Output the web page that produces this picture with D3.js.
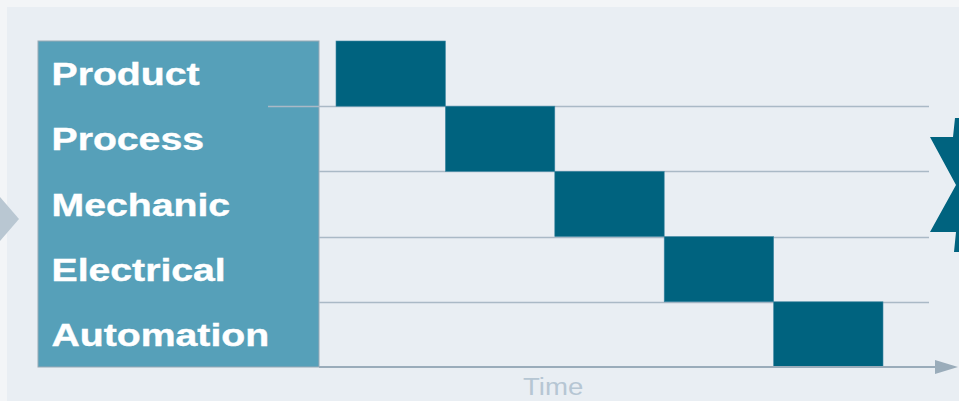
<!DOCTYPE html>
<html>
<head>
<meta charset="utf-8">
<script src="https://cdn.jsdelivr.net/npm/d3@7"></script>
<style>
  body { margin: 0; background: #f3f5f7; }
  svg { display: block; }
</style>
</head>
<body>
<svg></svg>
<script>
// phases of the sequential workflow, in time units
const phases = ["Product", "Process", "Mechanic", "Electrical", "Automation"];
const phaseStart = [0, 1, 2, 3, 4];
const phaseEnd = [1, 2, 3, 4, 5];
const axisLabel = "Time";

const width = 959, height = 401;

const svg = d3.select("svg")
  .attr("width", width)
  .attr("height", height);

const colors = {
  page: "#f3f5f7",
  panel: "#e9eef3",
  box: "#56a0b9",
  boxEdge: "#98a9b6",
  bar: "#00637f",
  grid: "#aab9c6",
  axis: "#9aacba",
  axisText: "#b6c6d3",
  leftArrow: "#b9c7d2"
};

// plot frame
const boxLeft = 38, plotLeft = 319, plotRight = 929, plotTop = 41, plotBottom = 367;

const x = d3.scaleLinear().domain([0, 5]).range([336, 883]);
const y = d3.scaleBand().domain(phases).range([plotTop, plotBottom]).padding(0);

svg.append("rect")
  .attr("width", width).attr("height", height)
  .attr("fill", colors.page);

svg.append("rect")
  .attr("x", 7).attr("y", 7)
  .attr("width", width - 7).attr("height", height - 7)
  .attr("fill", colors.panel);

// incoming arrow on the left
svg.append("path")
  .attr("d", "M0,197 L19,219 L0,241 Z")
  .attr("fill", colors.leftArrow);

// outgoing chevron on the right edge
svg.append("path")
  .attr("d", "M930,137 L953,137 L955,118 L959,118 L959,252 L954,252 L956,232 L930,232 L956,185 Z")
  .attr("fill", colors.bar);

// label box
svg.append("rect")
  .attr("x", boxLeft).attr("y", plotTop)
  .attr("width", plotLeft - boxLeft).attr("height", plotBottom - plotTop)
  .attr("fill", colors.box)
  .attr("stroke", colors.boxEdge)
  .attr("stroke-width", 1);

// row separators
const seps = phases.slice(1).map(p => y(p));
svg.selectAll(".grid")
  .data(seps)
  .enter()
  .append("line")
  .attr("class", "grid")
  .attr("x1", (d, i) => i === 0 ? 268 : plotLeft)
  .attr("x2", plotRight)
  .attr("y1", d => Math.round(d) + 0.5)
  .attr("y2", d => Math.round(d) + 0.5)
  .attr("stroke", colors.grid)
  .attr("stroke-width", 1.5);

// bars
svg.selectAll(".bar")
  .data(phases)
  .enter()
  .append("rect")
  .attr("class", "bar")
  .attr("x", (d, i) => x(phaseStart[i]))
  .attr("y", d => y(d))
  .attr("width", (d, i) => x(phaseEnd[i]) - x(phaseStart[i]))
  .attr("height", y.bandwidth())
  .attr("fill", colors.bar)
  .attr("stroke", "#3f88a3")
  .attr("stroke-width", 0.6);

// row labels
svg.selectAll(".label")
  .data(phases)
  .enter()
  .append("text")
  .attr("class", "label")
  .attr("transform", d => `translate(51.5, ${y(d) + y.bandwidth() / 2 + 11.5}) scale(1.225, 1)`)
  .attr("font-family", "'Liberation Sans', Arial, sans-serif")
  .attr("font-weight", "bold")
  .attr("font-size", 32)
  .attr("fill", "#ffffff")
  .attr("stroke", "#ffffff")
  .attr("stroke-width", 0.4)
  .text(d => d);

// time axis with arrow
svg.append("line")
  .attr("x1", plotLeft).attr("x2", 937)
  .attr("y1", plotBottom).attr("y2", plotBottom)
  .attr("stroke", colors.axis)
  .attr("stroke-width", 2);

svg.append("path")
  .attr("d", `M935,${plotBottom - 7} L958,${plotBottom} L935,${plotBottom + 7} Z`)
  .attr("fill", colors.axis);

svg.append("text")
  .attr("transform", "translate(523, 395) scale(1.15, 1)")
  .attr("font-family", "'Liberation Sans', Arial, sans-serif")
  .attr("font-size", 24)
  .attr("fill", colors.axisText)
  .text(axisLabel);
</script>
</body>
</html>
